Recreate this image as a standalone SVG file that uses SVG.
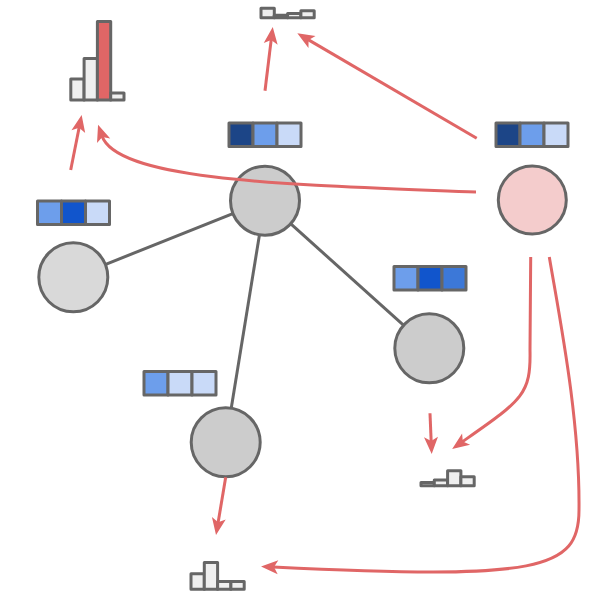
<svg xmlns="http://www.w3.org/2000/svg" width="591" height="608" viewBox="0 0 591 608">
<style>
.edge{stroke:#666666;stroke-width:3;fill:none}
.arr{stroke:#e06666;stroke-width:3;fill:none;marker-end:url(#ah)}
.node{stroke:#666666;stroke-width:3}
.bar{fill:#efefef;stroke:#666666;stroke-width:3;stroke-linejoin:round}
.hot{fill:#e06666}
.cell{stroke:#666666;stroke-width:3;stroke-linejoin:round}
</style>
<defs>
<marker id="ah" markerUnits="userSpaceOnUse" markerWidth="20" markerHeight="20" refX="5" refY="8" orient="auto" overflow="visible">
<path d="M0,1 L17,8 L0,15 L4,8 Z" fill="#e06666"/>
</marker>
</defs>
<rect width="591" height="608" fill="#ffffff"/>
<g id="edges">
<line class="edge" x1="265" y1="200.7" x2="73.3" y2="277.3"/>
<line class="edge" x1="265" y1="200.7" x2="225.7" y2="442.3"/>
<line class="edge" x1="265" y1="200.7" x2="429.3" y2="348.3"/>
</g>
<g id="node-center"><circle class="node" cx="265" cy="200.7" r="34.5" fill="#cccccc"/></g>
<g id="node-left"><circle class="node" cx="73.3" cy="277.3" r="34.5" fill="#d9d9d9"/></g>
<g id="node-bottom"><circle class="node" cx="225.7" cy="442.3" r="34.5" fill="#cccccc"/></g>
<g id="node-rightmid"><circle class="node" cx="429.3" cy="348.3" r="34.5" fill="#cccccc"/></g>
<g id="node-pink"><circle class="node" cx="532.3" cy="200" r="34" fill="#f4cccc"/></g>
<g id="swatch-top">
<rect class="cell" x="229" y="123" width="24" height="23.5" fill="#1c4587"/>
<rect class="cell" x="253" y="123" width="24" height="23.5" fill="#6d9eeb"/>
<rect class="cell" x="277" y="123" width="24" height="23.5" fill="#c9daf8"/>
</g>
<g id="swatch-pink">
<rect class="cell" x="496" y="123" width="24" height="23.5" fill="#1c4587"/>
<rect class="cell" x="520" y="123" width="24" height="23.5" fill="#6d9eeb"/>
<rect class="cell" x="544" y="123" width="24" height="23.5" fill="#c9daf8"/>
</g>
<g id="swatch-left">
<rect class="cell" x="37.5" y="201" width="24" height="23.5" fill="#6d9eeb"/>
<rect class="cell" x="61.5" y="201" width="24" height="23.5" fill="#1155cc"/>
<rect class="cell" x="85.5" y="201" width="24" height="23.5" fill="#c9daf8"/>
</g>
<g id="swatch-rightmid">
<rect class="cell" x="394" y="266.5" width="24" height="23.5" fill="#6d9eeb"/>
<rect class="cell" x="418" y="266.5" width="24" height="23.5" fill="#1155cc"/>
<rect class="cell" x="442" y="266.5" width="24" height="23.5" fill="#3c78d8"/>
</g>
<g id="swatch-bottom">
<rect class="cell" x="144" y="371.5" width="24" height="23.5" fill="#6d9eeb"/>
<rect class="cell" x="168" y="371.5" width="24" height="23.5" fill="#c9daf8"/>
<rect class="cell" x="192" y="371.5" width="24" height="23.5" fill="#c9daf8"/>
</g>
<g id="hist-topleft">
<rect class="bar" x="70.8" y="79" width="13.3" height="21"/>
<rect class="bar" x="84.1" y="58.5" width="13.3" height="41.5"/>
<rect class="bar hot" x="97.4" y="21.5" width="13.3" height="78.5"/>
<rect class="bar" x="110.7" y="93" width="13.3" height="7"/>
</g>
<g id="hist-top">
<rect class="bar" x="261" y="8.2" width="13.3" height="9.6"/>
<rect class="bar" x="274.3" y="15.2" width="13.3" height="2.6"/>
<rect class="bar" x="287.6" y="13.5" width="13.3" height="4.3"/>
<rect class="bar" x="300.9" y="10.8" width="13.3" height="7"/>
</g>
<g id="hist-bottomright">
<rect class="bar" x="421" y="482.5" width="13.3" height="3.3"/>
<rect class="bar" x="434.3" y="480" width="13.3" height="5.8"/>
<rect class="bar" x="447.6" y="470.8" width="13.3" height="15"/>
<rect class="bar" x="460.9" y="476.8" width="13.3" height="9"/>
</g>
<g id="hist-bottomleft">
<rect class="bar" x="191" y="573.8" width="13.3" height="15.4"/>
<rect class="bar" x="204.3" y="562.5" width="13.3" height="26.7"/>
<rect class="bar" x="217.6" y="581.5" width="13.3" height="7.7"/>
<rect class="bar" x="230.9" y="581.5" width="13.3" height="7.7"/>
</g>
<g id="connectors">
<path class="arr" d="M70.7,170 L79.3,126.8"/>
<path class="arr" d="M265,90.7 L271.3,38.9"/>
<path class="arr" d="M476.7,138.3 L307.7,39.4"/>
<path class="arr" d="M476,192 C300,185 118,182 102,136"/>
<path class="arr" d="M225.7,477.3 L218,523.2"/>
<path class="arr" d="M430,413.3 L431.2,442"/>
<path class="arr" d="M530.7,257 L530,350 C531,395 522,400 462,442"/>
<path class="arr" d="M549.3,257 C560,320 580,420 579,510 C579,570 540,580 273,567"/>
</g>
</svg>
